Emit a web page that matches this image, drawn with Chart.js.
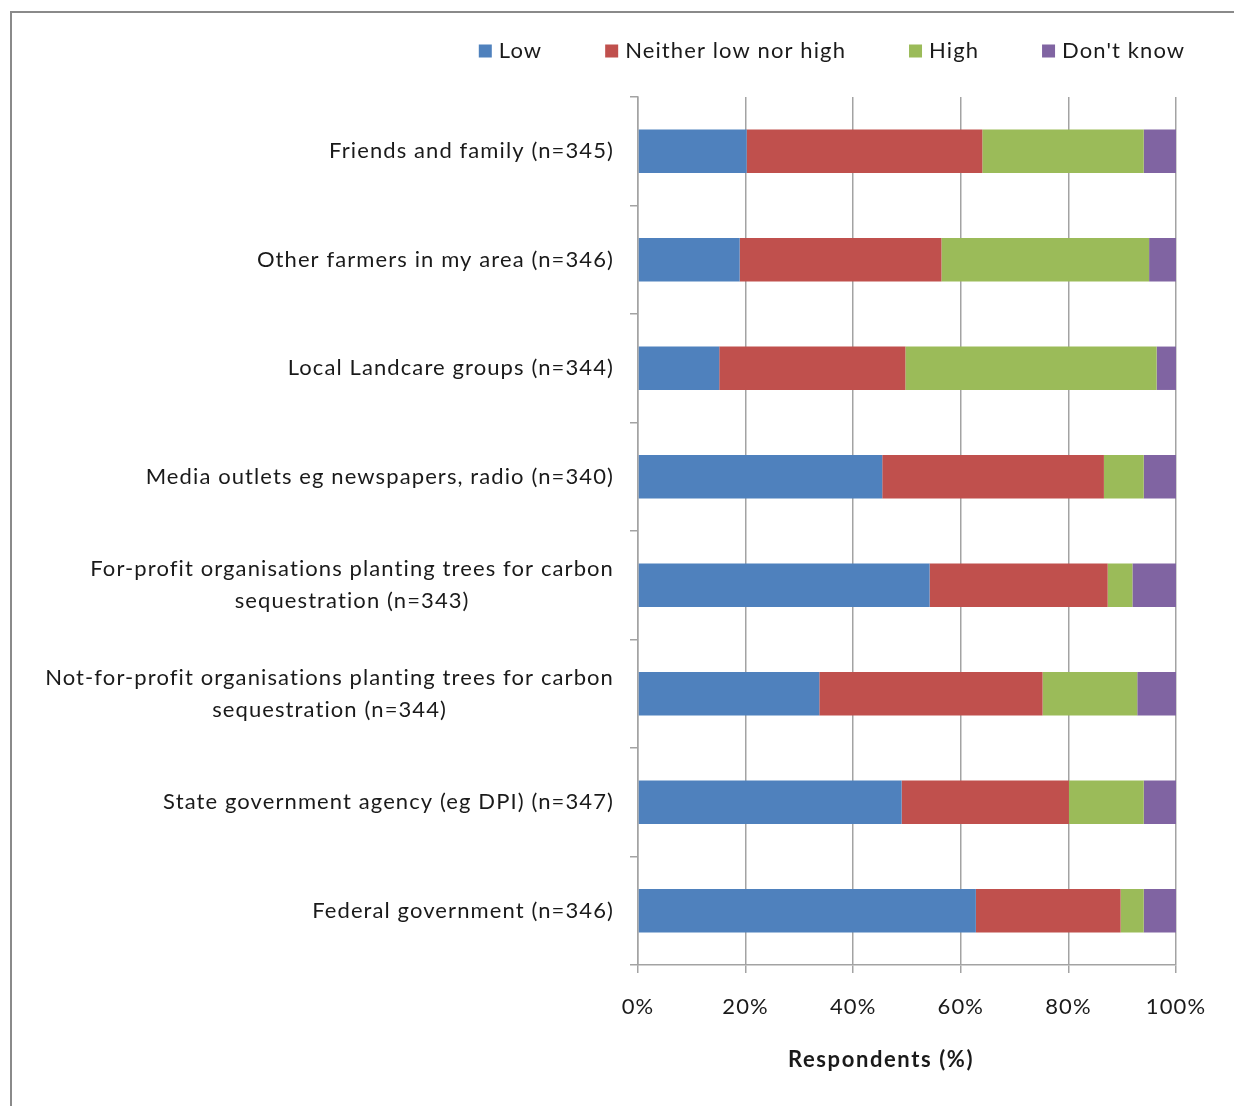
<!DOCTYPE html>
<html>
<head>
<meta charset="utf-8">
<title>Trust in information sources</title>
<script src="https://cdn.jsdelivr.net/npm/chart.js@4.4.1/dist/chart.umd.min.js"></script>
<style>
  html, body { margin: 0; padding: 0; background: #fff; overflow: hidden; }
  #wrap { position: relative; width: 1234px; height: 1106px; }
  #wrap canvas { position: absolute; left: 0; top: 0; }
  #frame { position: absolute; left: 10px; top: 11px; width: 1400px; height: 1300px;
           border: 2px solid #8a8a8a; box-sizing: border-box; pointer-events: none; }
</style>
</head>
<body>
<div id="wrap">
  <canvas id="chart" width="1234" height="1106"></canvas>
  <div id="frame"></div>
</div>
<script>
// Information sources (multi-line labels are arrays of lines)
const categories = [
  ["Friends and family (n=345)"],
  ["Other farmers in my area (n=346)"],
  ["Local Landcare groups (n=344)"],
  ["Media outlets eg newspapers, radio (n=340)"],
  ["For-profit organisations planting trees for carbon", "sequestration (n=343)"],
  ["Not-for-profit organisations planting trees for carbon", "sequestration (n=344)"],
  ["State government agency (eg DPI) (n=347)"],
  ["Federal government (n=346)"]
];

const seriesNames = ["Low", "Neither low nor high", "High", "Don't know"];

// Share of respondents (%) per response
const lowValues     = [20.2, 18.9, 15.1, 45.4, 54.2, 33.7, 49.0, 62.8];
const neitherValues = [43.8, 37.5, 34.6, 41.2, 33.1, 41.5, 31.1, 26.9];
const highValues    = [30.0, 38.6, 46.7,  7.4,  4.6, 17.6, 13.9,  4.3];
const dontKnowValues = [6.0,  5.0,  3.6,  6.0,  8.1,  7.2,  6.0,  6.0];

const xTicks = [0, 20, 40, 60, 80, 100];
const xTitle = "Respondents (%)";

const colors = ["#4F81BD", "#C0504D", "#9BBB59", "#8064A2"];
const FONT = "Lato";
const TEXT = "#1a1a1a";
const GRID = "#a3a3a3";
const SPACING = "1.1px";

// Slightly open letter spacing for all chart text
const textSpacing = {
  id: "textSpacing",
  beforeDraw(chart) { chart.ctx.letterSpacing = SPACING; }
};

// Right-aligned block, lines centred on each other
const categoryLabels = {
  id: "categoryLabels",
  afterDraw(chart) {
    const ctx = chart.ctx, y = chart.scales.y;
    ctx.save();
    ctx.letterSpacing = SPACING;
    ctx.font = `22px ${FONT}`;
    ctx.fillStyle = TEXT;
    ctx.textAlign = "left";
    ctx.textBaseline = "middle";
    const right = chart.chartArea.left - 24;
    categories.forEach((lines, i) => {
      const cy = y.getPixelForValue(i);
      const ws = lines.map(l => ctx.measureText(l).width);
      const w = Math.max(...ws);
      const cx = right - w / 2;
      lines.forEach((line, k) => {
        ctx.fillText(line, cx - ws[k] / 2, cy + (k - (lines.length - 1) / 2) * 32);
      });
    });
    ctx.restore();
  }
};

// Legend row above the plot
const topLegend = {
  id: "topLegend",
  afterDraw(chart) {
    const ctx = chart.ctx, area = chart.chartArea;
    ctx.save();
    ctx.letterSpacing = SPACING;
    ctx.font = `22px ${FONT}`;
    ctx.textBaseline = "middle";
    ctx.textAlign = "left";
    const box = 13, gapText = 7, gapItem = 63;
    const widths = seriesNames.map(n => box + gapText + ctx.measureText(n).width);
    const total = widths.reduce((a, b) => a + b, 0) + gapItem * (seriesNames.length - 1);
    const cy = area.top - 46;
    let x = (area.left + area.right) / 2 - 75 - total / 2;
    seriesNames.forEach((name, i) => {
      ctx.fillStyle = colors[i];
      ctx.fillRect(x, cy - box / 2, box, box);
      ctx.fillStyle = TEXT;
      ctx.fillText(name, x + box + gapText, cy);
      x += widths[i] + gapItem;
    });
    ctx.restore();
  }
};

// Horizontal axis title
const axisTitle = {
  id: "axisTitle",
  afterDraw(chart) {
    const ctx = chart.ctx, area = chart.chartArea;
    ctx.save();
    ctx.letterSpacing = "1.6px";
    ctx.font = `bold 22px ${FONT}`;
    ctx.fillStyle = TEXT;
    ctx.textAlign = "left";
    ctx.textBaseline = "middle";
    const w = ctx.measureText(xTitle).width;
    ctx.fillText(xTitle, (area.left + area.right) / 2 - 26 - w / 2, area.bottom + 95);
    ctx.restore();
  }
};

const values = [lowValues, neitherValues, highValues, dontKnowValues];

function build() {
  new Chart(document.getElementById("chart"), {
    type: "bar",
    data: {
      labels: categories,
      datasets: seriesNames.map((name, i) => ({
        label: name,
        data: values[i],
        backgroundColor: colors[i],
        borderWidth: 0,
        categoryPercentage: 0.8,
        barPercentage: 0.5
      }))
    },
    options: {
      indexAxis: "y",
      responsive: false,
      animation: false,
      devicePixelRatio: 1,
      layout: { padding: { left: 0, right: 58, top: 97, bottom: 0 } },
      plugins: {
        legend: { display: false },
        tooltip: { enabled: false },
        title: { display: false }
      },
      scales: {
        x: {
          stacked: true,
          min: 0,
          max: 100,
          afterBuildTicks(scale) { scale.ticks = xTicks.map(v => ({ value: v })); },
          afterFit(scale) { scale.height = 141; },
          ticks: {
            callback: v => v + "%",
            font: { family: FONT, size: 22 },
            color: TEXT,
            padding: 21,
            maxRotation: 0
          },
          grid: { color: GRID, lineWidth: 1.5, tickLength: 8, drawTicks: true },
          border: { display: true, color: GRID, width: 1.5 }
        },
        y: {
          stacked: true,
          afterFit(scale) { scale.width = 638; },
          ticks: { display: false },
          grid: { offset: true, drawOnChartArea: false, drawTicks: true, tickLength: 8, color: GRID, lineWidth: 1.5 },
          border: { display: true, color: GRID, width: 1.5 }
        }
      }
    },
    plugins: [textSpacing, categoryLabels, topLegend, axisTitle]
  });
}

if (document.fonts && document.fonts.load) {
  Promise.all([
    document.fonts.load(`22px ${FONT}`),
    document.fonts.load(`bold 22px ${FONT}`)
  ]).then(build, build);
} else {
  build();
}
</script>
</body>
</html>
